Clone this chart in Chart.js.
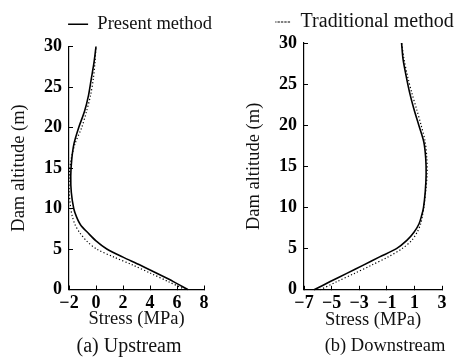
<!DOCTYPE html>
<html>
<head>
<meta charset="utf-8">
<script src="https://cdn.jsdelivr.net/npm/chart.js@4.4.1/dist/chart.umd.min.js"></script>
<style>
  html, body { margin: 0; padding: 0; background: #fff; }
  #wrap { position: relative; width: 455px; height: 359px; overflow: hidden; }
  canvas { position: absolute; top: 0; }
</style>
</head>
<body>
<div id="wrap">
  <canvas id="upChart" width="227" height="359" style="left:0px"></canvas>
  <canvas id="downChart" width="220" height="359" style="left:235px"></canvas>
</div>
<script>
var altitude = [0, 1, 2, 3, 4, 5, 6, 7, 8, 9, 10, 12, 14, 16, 18, 20, 22, 24, 26, 28, 30];

// (a) upstream face stress (MPa)
var upPresent     = [6.8, 5.7, 4.5, 3.3, 2.0, 0.8, 0.0, -0.6, -1.15, -1.45, -1.65, -1.83, -1.87, -1.8, -1.63, -1.28, -0.85, -0.55, -0.35, -0.15, 0.0];
var upTraditional = [6.6, 5.33, 4.05, 2.75, 1.33, 0.04, -0.7, -1.2, -1.55, -1.75, -1.87, -1.98, -1.98, -1.85, -1.55, -1.06, -0.7, -0.4, -0.2, -0.08, 0.0];

// (b) downstream face stress (MPa)
var downPresent     = [-6.27, -5.1, -3.9, -2.7, -1.52, -0.3, 0.45, 0.97, 1.33, 1.52, 1.66, 1.79, 1.85, 1.82, 1.68, 1.32, 0.96, 0.65, 0.4, 0.18, 0.07];
var downTraditional = [-5.83, -4.6, -3.33, -2.1, -0.9, 0.1, 0.8, 1.2, 1.45, 1.58, 1.68, 1.82, 1.92, 1.9, 1.78, 1.49, 1.15, 0.8, 0.5, 0.25, 0.08];

// tick values
var upTicks   = [-2, 0, 2, 4, 6, 8];
var downTicks = [-7, -5, -3, -1, 1, 3];
var altTicks  = [0, 5, 10, 15, 20, 25, 30];

var labelPresent = 'Present method';
var labelTraditional = 'Traditional method';

Chart.defaults.font.family = "'Liberation Serif', 'Times New Roman', serif";
Chart.defaults.color = '#111';

function toPoints(xs) {
    var pts = [];
    for (let i = 0; i < altitude.length; i++) {
        pts.push({ x: xs[i], y: altitude[i] });
    }
    return pts;
}

function fmt(v) {                       // real minus sign like the paper
    return v < 0 ? '\u2212' + Math.abs(v) : String(v);
}

// nudges legend and caption after layout
const boxShift = {
    id: 'boxShift',
    afterLayout(chart, args, opts) {
        if (chart.legend) {
            chart.legend.left += opts.legendDx || 0;
            chart.legend.right += opts.legendDx || 0;
            chart.legend.top += opts.legendDy || 0;
            chart.legend.bottom += opts.legendDy || 0;
        }
        if (chart.titleBlock) {
            chart.titleBlock.left += opts.titleDx || 0;
            chart.titleBlock.right += opts.titleDx || 0;
        }
    }
};

function makeChart(id, cfg) {
    const ctx = document.getElementById(id).getContext('2d');
    return new Chart(ctx, {
        type: 'line',
        data: {
            datasets: [{
                label: labelPresent,
                data: toPoints(cfg.present),
                borderColor: '#000',
                backgroundColor: 'rgba(0,0,0,0)',
                borderWidth: 1.6,
                pointRadius: 0,
                tension: 0.3,
                fill: false
            }, {
                label: labelTraditional,
                data: toPoints(cfg.traditional),
                borderColor: '#000',
                backgroundColor: 'rgba(0,0,0,0)',
                borderWidth: 1.2,
                borderDash: [1.2, 2.2],
                pointRadius: 0,
                tension: 0.3,
                fill: false
            }]
        },
        plugins: [boxShift],
        options: {
            responsive: false,
            animation: false,
            devicePixelRatio: 1,
            clip: false,
            layout: { padding: { left: 4, right: cfg.padRight, top: cfg.padTop, bottom: 0 } },
            scales: {
                x: {
                    type: 'linear',
                    min: cfg.xMin,
                    max: cfg.xMax,
                    afterBuildTicks: function (scale) {
                        scale.ticks = cfg.xTicks.map(v => ({ value: v }));
                    },
                    ticks: {
                        callback: fmt,
                        padding: 6.7,
                        maxRotation: 0,
                        color: '#000',
                        font: { size: 18, weight: 'bold' }
                    },
                    grid: { drawOnChartArea: false, tickLength: -4, color: '#000', lineWidth: 1 },
                    border: { color: '#000', width: 1.2 },
                    title: {
                        display: true,
                        text: 'Stress (MPa)',
                        color: '#111',
                        font: { size: 18.5 },
                        padding: { top: -12, bottom: 4.3 }
                    }
                },
                y: {
                    type: 'linear',
                    min: 0,
                    max: 30,
                    afterBuildTicks: function (scale) {
                        scale.ticks = altTicks.map(v => ({ value: v }));
                    },
                    ticks: {
                        padding: 11,
                        color: '#000',
                        font: { size: 18, weight: 'bold' }
                    },
                    grid: { drawOnChartArea: false, tickLength: -4, color: '#000', lineWidth: 1 },
                    border: { color: '#000', width: 1.2 },
                    title: {
                        display: true,
                        text: 'Dam altitude (m)',
                        color: '#111',
                        font: { size: 18.5 },
                        padding: { top: 4.4, bottom: 2.4 }
                    }
                }
            },
            plugins: {
                legend: {
                    display: true,
                    position: 'top',
                    labels: {
                        filter: item => item.text === cfg.shown,
                        boxWidth: cfg.keyWidth,
                        boxHeight: 0,
                        padding: cfg.legendPad,
                        color: '#111',
                        font: { size: cfg.legendFont }
                    }
                },
                boxShift: { legendDx: cfg.legendDx, legendDy: cfg.legendDy, titleDx: cfg.titleDx },
                title: {
                    display: true,
                    position: 'bottom',
                    fullSize: false,
                    text: cfg.caption,
                    color: '#111',
                    font: { size: cfg.captionFont, weight: 'normal' },
                    padding: { top: 0, bottom: cfg.captionPad }
                },
                tooltip: { enabled: false }
            }
        }
    });
}

makeChart('upChart', {
    present: upPresent, traditional: upTraditional,
    xTicks: upTicks, xMin: -2, xMax: 8,
    caption: '(a) Upstream', captionFont: 20, captionPad: 0, titleDx: -7.5,
    shown: labelPresent, legendFont: 18.5, legendPad: 6, keyWidth: 20, legendDx: 36, legendDy: -3,
    padTop: 12, padRight: 23
});
makeChart('downChart', {
    present: downPresent, traditional: downTraditional,
    xTicks: downTicks, xMin: -7, xMax: 3,
    caption: '(b) Downstream', captionFont: 18.5, captionPad: 1.5, titleDx: 12,
    shown: labelTraditional, legendFont: 20, legendPad: 3.5, keyWidth: 15.3, legendDx: 24, legendDy: -1,
    padTop: 9.5, padRight: 13
});
</script>
</body>
</html>
